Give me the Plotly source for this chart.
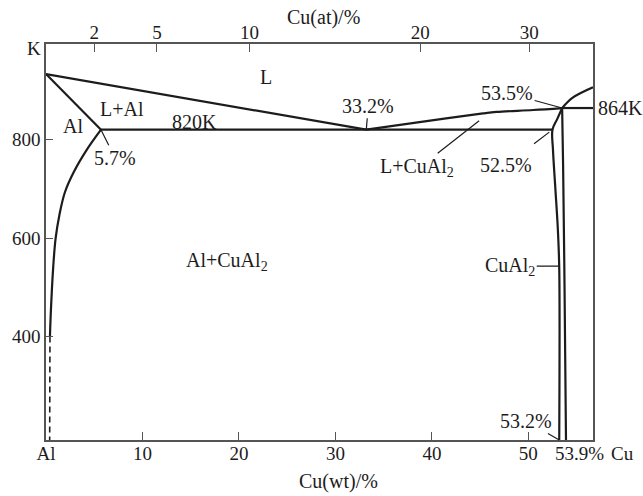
import plotly.graph_objects as go

# ---- Al–Cu phase diagram (Al-rich side), composition in wt% Cu, temperature in K ----

# Liquidus, Al side: melting point of Al to the eutectic
liq_al_wt = [0.0, 33.2]
liq_al_K = [933, 820]

# Liquidus, CuAl2 side: eutectic up to the 864 K point
liq_cu_wt = [33.2, 40.0, 45.3, 46.7, 50.5, 53.5]
liq_cu_K = [820, 839, 853, 856, 860, 864]

# Liquidus beyond 53.5 %
liq_hi_wt = [53.5, 54.6, 56.7]
liq_hi_K = [864, 885, 906]

# Solidus of the Al solid solution
sol_wt = [0.0, 5.7]
sol_K = [933, 820]

# Solvus of the Al solid solution
solvus_wt = [5.7, 4.22, 2.88, 1.96, 1.39, 1.0, 0.75, 0.48, 0.41]
solvus_K = [820, 779, 734, 693, 647, 600, 542, 440, 400]

# Solvus continued (uncertain, dashed)
solvus_ext_wt = [0.41, 0.38]
solvus_ext_K = [400, 190]

# Eutectic isotherm (820 K)
eut_wt = [5.7, 52.5]
eut_K = [820, 820]

# 864 K isotherm
iso864_wt = [53.5, 56.7]
iso864_K = [864, 864]

# CuAl2 phase field boundaries
cual2_left_wt = [53.5, 53.0, 52.5, 52.55, 52.8, 53.05, 53.2, 53.2]
cual2_left_K = [864, 842, 820, 780, 700, 620, 540, 190]
cual2_right_wt = [53.5, 53.6, 53.75, 53.9]
cual2_right_K = [864, 750, 500, 190]

# Leader for the L+CuAl2 field label
lead_lcu_wt = [40.6, 44.9]
lead_lcu_K = [772, 838]

# Axis ticks
wt_ticks = [0, 10, 20, 30, 40, 50]
wt_ticktext = ["Al", "10", "20", "30", "40", "50"]
at_tick_pos_wt = [5.0, 11.5, 21.1, 38.8, 50.1]
at_ticktext = ["2", "5", "10", "20", "30"]
K_ticks = [400, 600, 800]

X_RANGE = [0, 56.7]
Y_RANGE = [190, 994]

FONT = "Liberation Serif"
INK = "#1c1c1c"
FRAME = "#555555"
LW = 2.2

fig = go.Figure()


def curve(xs, ys, dash="solid", width=LW, shape="linear", smoothing=1.0):
    fig.add_trace(go.Scatter(
        x=xs, y=ys, mode="lines",
        line=dict(color=INK, width=width, dash=dash, shape=shape,
                  smoothing=smoothing),
        hoverinfo="skip", showlegend=False,
    ))


curve(liq_al_wt, liq_al_K)
curve(liq_cu_wt, liq_cu_K, shape="spline")
curve(liq_hi_wt, liq_hi_K, shape="spline")
curve(sol_wt, sol_K)
curve(solvus_wt, solvus_K, shape="spline")
curve(solvus_ext_wt, solvus_ext_K, dash="6px,4px", width=1.6)
curve(eut_wt, eut_K)
curve(iso864_wt, iso864_K)
curve(cual2_left_wt, cual2_left_K, shape="spline")
curve(cual2_right_wt, cual2_right_K, shape="spline")
curve(lead_lcu_wt, lead_lcu_K, width=1.2)

# invisible trace so the top (at%) axis is drawn
fig.add_trace(go.Scatter(x=X_RANGE, y=Y_RANGE, xaxis="x2", mode="markers",
                         marker=dict(opacity=0), hoverinfo="skip", showlegend=False))

tfont = dict(family=FONT, size=19, color=INK)
lfont = dict(family=FONT, size=20, color=INK)

annotations = []


def label(text, x, y, xref="x", yref="y", xanchor="center", yanchor="middle",
          font=None, **kw):
    annotations.append(dict(text=text, x=x, y=y, xref=xref, yref=yref,
                            xanchor=xanchor, yanchor=yanchor, showarrow=False,
                            font=font or lfont, **kw))


def pointer(text, x, y, ax, ay, standoff=0, startstandoff=0):
    annotations.append(dict(text=text, x=x, y=y, xref="x", yref="y",
                            showarrow=True, arrowhead=0, arrowwidth=1.2,
                            arrowcolor=INK, ax=ax, ay=ay,
                            standoff=standoff, startstandoff=startstandoff,
                            font=lfont))


# phase-field labels
label("L", 22.77, 927)
label("L+Al", 7.92, 863)
label("Al", 2.78, 827)
label("820K", 15.4, 836)
label("Al+CuAl<sub>2</sub>", 18.73, 553)
label("L+CuAl<sub>2</sub>", 38.49, 744)
label("864K", 56.7, 864, xanchor="left", xshift=3)

# composition call-outs
pointer("5.7%", 5.7, 820, 14, 28)
pointer("33.2%", 33.2, 820, 2, -24)
pointer("53.5%", 53.5, 864, -55, -15)
pointer("52.5%", 52.5, 820, -46, 35, standoff=4, startstandoff=14)
pointer("53.2%", 53.2, 190, -33, -19)
pointer("CuAl<sub>2</sub>", 53.2, 543, -49, 0)

# labels under the bottom axis, right end
label("53.9%", 1.0236, -0.034, xref="paper", yref="paper", xanchor="right", font=tfont)
label("Cu", 1.029, -0.034, xref="paper", yref="paper", xanchor="left", font=tfont)

# axis titles and unit
label("Cu(wt)/%", 0.5354, -0.105, xref="paper", yref="paper")
label("Cu(at)/%", 0.5064, 1.068, xref="paper", yref="paper")
label("K", 0, 1, xref="paper", yref="paper", xanchor="right", xshift=-3,
      yshift=-4, font=tfont)

fig.update_layout(
    width=643, height=496,
    margin=dict(l=42, r=50, t=44, b=56),
    paper_bgcolor="white", plot_bgcolor="white",
    showlegend=False,
    annotations=annotations,
    xaxis=dict(
        range=X_RANGE, tickvals=wt_ticks, ticktext=wt_ticktext,
        ticks="inside", ticklen=8, tickwidth=1.3, tickcolor=FRAME,
        ticklabelstandoff=-5,
        showline=True, linecolor=FRAME, linewidth=1.5, mirror=True,
        showgrid=False, zeroline=False, tickfont=tfont,
    ),
    xaxis2=dict(
        range=X_RANGE, overlaying="x", side="top", anchor="y",
        tickvals=at_tick_pos_wt, ticktext=at_ticktext,
        ticks="inside", ticklen=8, tickwidth=1.3, tickcolor=FRAME,
        showline=False, showgrid=False, zeroline=False, tickfont=tfont,
    ),
    yaxis=dict(
        range=Y_RANGE, tickvals=K_ticks,
        ticks="inside", ticklen=7, tickwidth=1.3, tickcolor=FRAME,
        showline=True, linecolor=FRAME, linewidth=1.5, mirror=True,
        showgrid=False, zeroline=False, tickfont=tfont,
    ),
)

fig.write_html("out.html")
